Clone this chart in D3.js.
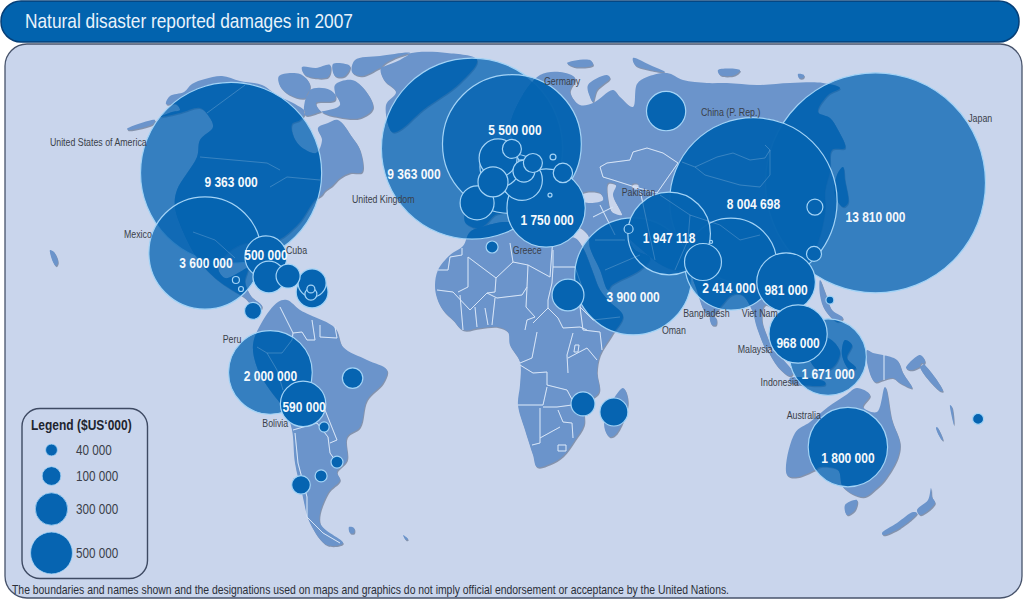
<!DOCTYPE html>
<html>
<head>
<meta charset="utf-8">
<script src="https://cdn.jsdelivr.net/npm/d3@7"></script>
<style>
html, body { margin: 0; padding: 0; background: #fff; }
svg { display: block; }
text { font-family: "Liberation Sans", Arial, sans-serif; }
</style>
</head>
<body>
<div id="chart"></div>
<script>
// damages in $US'000, with the position of each bubble on the map
const bubbleValues = [13810000, 9363000, 9363000, 8004698, 5500000, 3900000, 3600000, 2414000, 2000000, 1947118,
    1800000, 1750000, 1671000, 981000, 968000, 590000, 500000, 480000, 470000, 456000, 440000, 412000, 390000,
    330000, 290000, 290000, 290000, 257000, 225000, 224000, 165000, 164000, 138000, 120000, 107000, 103000, 103000,
    99000, 82000, 73000, 64000, 41000, 41000, 41000, 41000, 34500, 29000, 23000, 18000, 18000, 14000, 10000,
    7000, 4600, 2500];
const bubbleLon = [128.5, -86.3, -6, 87.8, 7.3, 47.7, -95, 80.3, -73.2, 59.7,
    119.3, 18.7, 112.7, 98.7, 102.7, -62.3, -74.7, 9, 10.7, 3.3, 58.7, 2.7, 71,
    -4.3, -73.7, -59.3, 26, 1, -59.3, 41.3, -67.3, 31, 11.3, -45.8, 24.3, 7.3, 14.3,
    -63, -79, 108.3, 108, 0.7, -51, -56.3, -59.7, 162.7, -55.3, 46.2, -59.7, 113.3, -84.7, 21,
    -83, 20, 73.7];
const bubbleLat = [52.4, 55.7, 63.8, 46.2, 65.3, 21.2, 29, 25.3, -10.8, 35.5,
    -35.7, 44, -5.7, 19.3, 2, -21.3, 27.7, 55, 53.3, 57.7, 76.3, 60.7, 26,
    45.7, 21, 16, 15, 52.7, 19, -24, 21.3, -21.3, 56.3, -12.7, 55.7, 63.7, 59,
    -48.3, 9.7, 44.3, 28.7, 31, -40.7, -45.3, 15.3, -26.3, -29, 37, 17, 13.3, 20, 61,
    17, 48.3, 32.7];

// bubble index, then label offset from the bubble centre
const labelledBubbles = [0, 1, 2, 3, 4, 5, 6, 7, 8, 9, 10, 11, 12, 13, 14, 15, 16];
const labelDx = [0, 0, -58, 0, 3, 0, 1, -2, 0, 0, 0, 1, 0, 0, 0, 1, 0];
const labelDy = [34, 9, 25, 2.5, -15, 20, 9, 23, 3, 4, 10, 11, 16, 7, 8, 3, -2];

const countryNames = ['United States of America', 'United Kingdom', 'Germany', 'Mexico', 'Cuba', 'Greece', 'Pakistan',
    'China (P. Rep.)', 'Japan', 'Oman', 'Bangladesh', 'Viet Nam', 'Malaysia', 'Indonesia', 'Australia', 'Peru', 'Bolivia'];
const countryLon = [-146.7, -46, 18, -122, -68, 7.6, 43.9, 70.3, 159.4, 57.3, 64.4, 83.9, 82.6, 90.2, 98.9, -89.1, -75.9];
const countryLat = [66, 47, 86.3, 35.3, 30, 29.8, 49.1, 76, 73.7, 3.3, 9, 9, -3, -14.1, -25, 0.2, -27.7];

const legendValues = [40000, 100000, 300000, 500000];

// basemap tracing, in picture pixels
const landShapes = [
    // north america
    [[160,117],[172,112],[180,110],[176,104],[166,104],[170,96],[184,92],[192,84],[205,79],[222,76],[240,81],[262,85],[278,96],[295,104],[305,112],[300,120],[292,124],[293,135],[300,146],[316,153],[322,140],[318,128],[328,123],[338,120],[352,137],[360,150],[362,172],[350,173],[340,178],[332,186],[325,191],[322,195],[315,200],[300,222],[285,236],[272,245],[270,258],[264,245],[245,243],[225,255],[218,268],[225,278],[240,272],[248,268],[245,282],[251,296],[262,306],[258,312],[245,298],[232,290],[215,278],[200,262],[187,240],[175,207],[177,190],[197,157],[200,140],[213,127],[208,115],[200,108],[180,113]],
    // arctic canada
    [[279,76],[300,74],[310,85],[305,98],[290,95],[280,86]],
    [[302,67],[316,68],[330,65],[328,77],[305,75]],
    [[335,85],[352,80],[365,90],[373,108],[360,118],[338,117],[322,112],[316,103],[335,100]],
    [[355,60],[380,56],[410,53],[400,60],[380,68],[362,76],[352,72]],
    [[310,90],[330,90],[340,105],[320,112],[305,115]],
    [[333,64],[350,66],[345,76],[335,76]],
    // greenland
    [[381,68],[407,54],[447,53],[477,60],[460,83],[423,110],[400,130],[392,132],[386,105],[396,92],[384,80]],
    // south america
    [[262,322],[278,302],[287,300],[300,310],[310,315],[335,328],[343,347],[367,360],[387,370],[383,383],[367,400],[360,427],[347,437],[347,460],[337,472],[340,480],[328,493],[320,523],[343,543],[327,545],[310,523],[302,493],[295,463],[292,430],[285,410],[270,390],[258,370],[253,345]],
    // africa
    [[463,246],[470,232],[485,226],[505,222],[515,224],[518,233],[535,236],[553,238],[575,238],[583,248],[592,270],[600,290],[610,302],[623,316],[612,335],[600,355],[597,372],[599,392],[585,405],[584,425],[575,440],[563,456],[550,464],[537,467],[533,455],[525,430],[518,405],[520,385],[520,362],[510,345],[508,332],[498,327],[480,328],[463,330],[453,320],[443,310],[437,298],[435,285],[438,270],[450,255]],
    // eurasia
    [[476,228],[465,222],[468,205],[480,203],[490,190],[505,178],[520,172],[520,150],[510,130],[520,100],[540,75],[560,72],[575,78],[570,92],[580,105],[593,103],[613,90],[620,97],[633,107],[637,84],[647,77],[667,73],[683,80],[707,83],[727,83],[757,85],[790,83],[823,83],[840,88],[828,95],[818,112],[830,118],[838,130],[845,148],[832,150],[830,170],[825,190],[825,210],[820,235],[812,255],[800,270],[792,275],[792,288],[785,300],[775,308],[765,305],[762,320],[772,352],[768,352],[757,328],[752,310],[742,295],[732,295],[722,305],[712,316],[705,312],[695,285],[688,270],[675,270],[660,264],[640,248],[628,238],[635,250],[650,258],[640,270],[612,285],[608,290],[600,270],[590,248],[588,235],[575,225],[560,225],[552,215],[545,225],[540,220],[530,205],[520,212],[512,205],[505,212],[495,215],[485,225]],
    // inland seas, cut out of eurasia by the even-odd fill
    [[582,193],[600,193],[603,200],[590,203],[580,200]],
    [[608,183],[616,185],[613,195],[620,210],[622,215],[612,212],[608,200]],
    [[632,184],[638,184],[638,189],[633,189]],
    // islands, north
    [[590,97],[588,85],[607,75],[610,78],[597,90],[593,102]],
    [[567,63],[590,60],[593,65],[575,67]],
    [[633,58],[650,65],[665,72],[650,70],[635,65]],
    [[718,70],[740,70],[735,75],[720,75]],
    [[798,74],[804,75],[803,78],[799,78]],
    [[127,129],[155,120],[153,124],[128,130]],
    [[50,250],[54,252],[58,262],[56,266],[53,262]],
    // asia-pacific
    [[837,175],[843,167],[845,180],[848,203],[843,207],[835,195]],
    [[710,317],[716,318],[716,325],[712,325]],
    [[820,280],[825,292],[832,310],[843,318],[838,322],[825,310],[820,295]],
    [[767,347],[775,352],[793,373],[790,376],[778,367]],
    [[810,340],[828,338],[840,352],[832,368],[818,370],[808,355]],
    [[845,340],[852,345],[847,358],[856,368],[850,370],[842,355]],
    [[790,378],[825,382],[825,385],[790,382]],
    [[867,350],[873,353],[883,355],[897,360],[903,373],[912,388],[900,383],[893,378],[883,380],[875,382],[868,367]],
    [[906,368],[920,355],[925,362],[912,370]],
    [[922,363],[943,391],[940,391],[920,367]],
    [[952,407],[954,425],[950,405]],
    [[937,427],[943,440],[942,440],[936,428]],
    // australia and new zealand
    [[787,475],[795,433],[810,422],[828,407],[846,395],[857,388],[870,395],[863,407],[877,412],[885,387],[892,420],[900,443],[898,457],[887,477],[877,488],[863,497],[843,487],[838,470],[820,467],[815,470],[797,477]],
    [[845,505],[857,500],[855,510],[847,515]],
    [[882,533],[897,523],[913,512],[917,513],[900,528],[883,535]],
    [[917,510],[928,500],[931,488],[932,497],[935,503],[920,515]],
    // madagascar and far islands
    [[623,388],[628,402],[617,433],[610,437],[605,430],[605,417]],
    [[349,527],[354,528],[354,533],[350,533]],
    [[403,535],[408,539],[406,540]]
];

const borderLines = [
    // africa
    [[462,248],[462,255],[450,257],[448,270],[438,270]],
    [[468,257],[468,287],[458,292]],
    [[468,257],[496,278],[513,262],[510,243]],
    [[513,262],[528,265],[550,277],[552,250],[553,238]],
    [[553,250],[553,267],[575,267]],
    [[528,265],[527,287],[522,295],[497,298],[487,293]],
    [[496,278],[495,292],[487,293],[470,310],[453,292],[437,290]],
    [[553,267],[552,283],[548,300],[548,308],[558,318],[563,328]],
    [[527,287],[526,307],[535,317],[527,320],[525,330]],
    [[537,332],[532,358],[520,363]],
    [[533,323],[548,308]],
    [[563,328],[580,327],[587,330]],
    [[573,333],[567,355],[568,373]],
    [[568,358],[587,348],[597,360]],
    [[520,365],[533,373],[547,372],[547,385],[567,390],[575,405]],
    [[518,405],[543,405],[547,387]],
    [[543,407],[557,407],[572,405]],
    [[540,408],[540,443],[532,445]],
    [[558,410],[563,422],[572,423],[573,438]],
    [[540,438],[560,427]],
    [[580,307],[593,320],[620,317]],
    [[600,332],[602,350]],
    [[583,330],[600,332]],
    [[575,267],[583,290],[580,307],[583,330]],
    [[460,295],[463,330]],
    [[475,307],[477,327]],
    [[485,308],[488,325]],
    [[495,298],[492,325]],
    [[558,445],[566,445],[566,451],[558,451],[558,445]],
    [[575,345],[579,345],[578,352],[574,352],[575,345]],
    // south america
    [[280,307],[293,333],[292,340]],
    [[293,333],[302,332],[307,340],[315,340],[312,320]],
    [[320,325],[320,337],[337,338],[335,327]],
    [[292,340],[282,353],[267,353],[257,347]],
    [[267,353],[277,370],[283,390]],
    [[325,410],[333,430],[337,440],[330,443]],
    [[295,433],[298,463],[307,497],[307,517],[323,533],[340,543]],
    [[293,430],[317,423],[328,437],[330,453],[337,463]],
    // north america
    [[207,113],[245,85]],
    [[200,157],[267,163],[280,170]],
    [[270,187],[287,177],[320,180]],
    [[193,232],[215,240],[235,258]],
    // asia
    [[600,167],[607,163],[630,160],[633,152],[647,148],[663,153],[678,163]],
    [[682,162],[695,167],[717,157],[733,153],[750,160],[765,158],[770,150],[765,145]],
    [[695,167],[705,175],[740,185],[760,187],[770,175],[770,150]],
    [[600,167],[603,177],[613,180],[635,187],[657,193],[678,163]],
    [[593,217],[613,207]],
    [[600,205],[615,235]],
    [[640,190],[655,260]],
    [[690,215],[720,225],[740,240],[760,235]],
    [[595,240],[625,240]],
    [[605,270],[640,255]],
    [[660,195],[690,215],[688,240],[675,270]],
    [[884,355],[884,380]]
];

const width = 1023;
const height = 600;
const bubbleColor = '#0664b1';
const ringColor = '#a3d3f6';
const landColor = '#6b94cb';

const mapX = d3.scaleLinear().domain([-180, 180]).range([-50, 1030]);
const mapY = d3.scaleLinear().domain([90, -90]).range([70, 610]);
const radius = d3.scaleSqrt().domain([0, 13810000]).range([0, 110]);
const spaced = d3.formatLocale({ decimal: '.', thousands: ' ', grouping: [3], currency: ['', ''] }).format(',d');

// only a wide Liberation Sans is at hand, so narrow it horizontally
const NARROW = 0.8;

const svg = d3.select('#chart')
    .append('svg')
    .attr('width', width)
    .attr('height', height);

// clip for the darker part of a big bubble where it lies over land
const coast = d3.line().curve(d3.curveCatmullRomClosed.alpha(0.5));
const tracePath = d3.line();
const landPath = landShapes.map(s => coast(s)).join('');
const defs = svg.append('defs');
defs.append('clipPath').attr('id', 'landClip')
    .append('path').attr('d', landPath).attr('clip-rule', 'evenodd');

// title bar
svg.append('rect')
    .attr('x', 1).attr('y', 1)
    .attr('width', 1018).attr('height', 41)
    .attr('rx', 20).attr('ry', 20)
    .attr('fill', '#0263ae')
    .attr('stroke', '#063f77')
    .attr('stroke-width', 1.5);

svg.append('text')
    .attr('x', 25).attr('y', 28)
    .attr('fill', '#e8f2fb')
    .attr('font-size', 21)
    .attr('textLength', 328)
    .attr('lengthAdjust', 'spacingAndGlyphs')
    .text('Natural disaster reported damages in 2007');

// map panel
svg.append('rect')
    .attr('x', 5).attr('y', 44)
    .attr('width', 1017).attr('height', 554)
    .attr('rx', 22).attr('ry', 22)
    .attr('fill', '#c9d5ec')
    .attr('stroke', '#47536b')
    .attr('stroke-width', 1.3);

const land = svg.append('g').attr('class', 'land');

land.append('path')
    .attr('d', landPath)
    .attr('transform', 'translate(0.8,1.2)')
    .attr('fill', '#8493ad')
    .attr('fill-rule', 'evenodd');

land.append('path')
    .attr('d', landPath)
    .attr('fill', landColor)
    .attr('fill-rule', 'evenodd');

function drawBorders(parent, opacity) {
    parent.selectAll('.border')
        .data(borderLines)
        .enter().append('path')
        .attr('class', 'border')
        .attr('d', d => tracePath(d))
        .attr('fill', 'none')
        .attr('stroke', '#d6e4f7')
        .attr('stroke-width', 1)
        .attr('opacity', opacity);
}

drawBorders(land, 1);

// bubbles, biggest first so that the small ones stay on top
const bubbles = bubbleValues.map((value, i) => ({
    value,
    x: mapX(bubbleLon[i]),
    y: mapY(bubbleLat[i])
}));

const isTranslucent = d => d.value >= 1600000 && d.value !== 1750000;

function drawBubbles(data, translucent) {
    const bubble = svg.append('g')
        .selectAll('.bubble')
        .data(data)
        .enter().append('g')
        .attr('class', 'bubble');

    bubble.append('circle')
        .attr('cx', d => d.x)
        .attr('cy', d => d.y)
        .attr('r', d => radius(d.value))
        .attr('fill', bubbleColor)
        .attr('fill-opacity', translucent ? 0.76 : 1);

    if (translucent) {
        bubble.append('circle')
            .attr('cx', d => d.x)
            .attr('cy', d => d.y)
            .attr('r', d => radius(d.value))
            .attr('fill', bubbleColor)
            .attr('fill-opacity', 0.88)
            .attr('clip-path', 'url(#landClip)');
    }

    bubble.append('circle')
        .attr('cx', d => d.x)
        .attr('cy', d => d.y)
        .attr('r', d => radius(d.value))
        .attr('fill', 'none')
        .attr('stroke', ringColor)
        .attr('stroke-width', 1.2);
}

drawBubbles(bubbles.filter(isTranslucent), true);
drawBorders(svg.append('g'), 0.22);
drawBubbles(bubbles.filter(d => !isTranslucent(d)), false);

// value labels
svg.append('g')
    .selectAll('text')
    .data(labelledBubbles)
    .enter().append('text')
    .attr('transform', (d, i) => `translate(${bubbles[d].x + labelDx[i]},${bubbles[d].y + labelDy[i] + 5.5}) scale(${NARROW},1)`)
    .attr('text-anchor', 'middle')
    .attr('fill', '#f4f8fc')
    .attr('font-size', 15)
    .attr('font-weight', 'bold')
    .text(d => spaced(bubbleValues[d]));

// country names
svg.append('g')
    .selectAll('text')
    .data(countryNames)
    .enter().append('text')
    .attr('transform', (d, i) => `translate(${mapX(countryLon[i])},${mapY(countryLat[i]) + 3.5}) scale(${NARROW},1)`)
    .attr('fill', '#3a3f4a')
    .attr('font-size', 11)
    .text(d => d);

// legend
const legend = svg.append('g').attr('class', 'legend');

legend.append('rect')
    .attr('x', 22).attr('y', 408.5)
    .attr('width', 125.5).attr('height', 170)
    .attr('rx', 18).attr('ry', 18)
    .attr('fill', 'none')
    .attr('stroke', '#3e4a63')
    .attr('stroke-width', 1.4);

legend.append('text')
    .attr('transform', `translate(31,430) scale(${NARROW},1)`)
    .attr('fill', '#1f2530')
    .attr('font-size', 15)
    .attr('font-weight', 'bold')
    .text('Legend ($US\u2018000)');

const legendRowY = [450, 476, 509, 553];

legend.selectAll('circle')
    .data(legendValues)
    .enter().append('circle')
    .attr('cx', 51.5)
    .attr('cy', (d, i) => legendRowY[i])
    .attr('r', d => radius(d))
    .attr('fill', bubbleColor)
    .attr('stroke', ringColor)
    .attr('stroke-width', 0.8);

legend.selectAll('.legend-value')
    .data(legendValues)
    .enter().append('text')
    .attr('class', 'legend-value')
    .attr('transform', (d, i) => `translate(76,${legendRowY[i] + 5}) scale(0.78,1)`)
    .attr('fill', '#3a3f4a')
    .attr('font-size', 15)
    .text(d => spaced(d));

// footer
svg.append('text')
    .attr('x', 12).attr('y', 594)
    .attr('fill', '#2b2f38')
    .attr('font-size', 13)
    .attr('textLength', 717)
    .attr('lengthAdjust', 'spacingAndGlyphs')
    .text('The boundaries and names shown and the designations used on maps and graphics do not imply official endorsement or acceptance by the United Nations.');
</script>
</body>
</html>
